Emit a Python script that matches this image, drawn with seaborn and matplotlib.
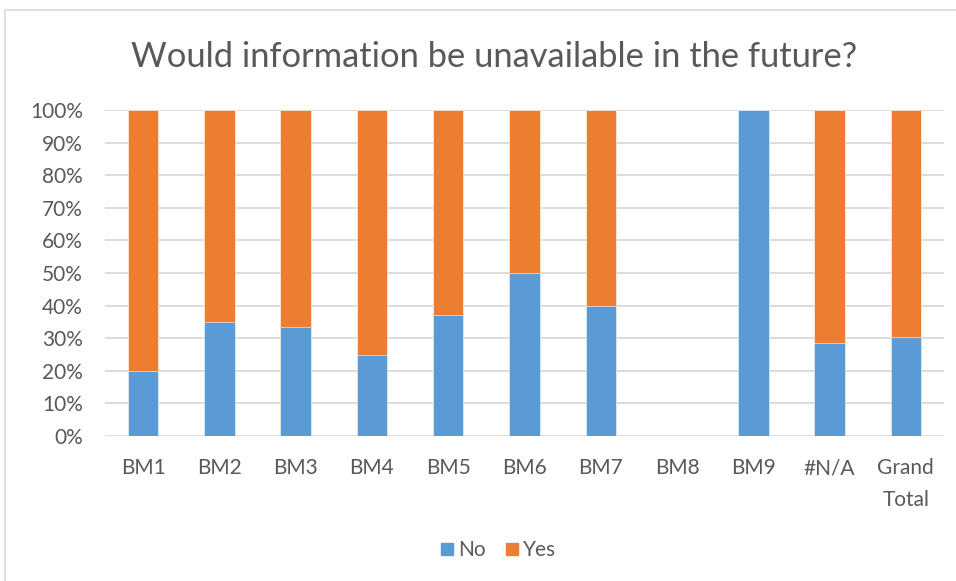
import matplotlib
matplotlib.use("Agg")
import matplotlib.pyplot as plt
from matplotlib.lines import Line2D
from matplotlib.ticker import PercentFormatter
import seaborn as sns
import pandas as pd

categories = ["BM1", "BM2", "BM3", "BM4", "BM5", "BM6", "BM7", "BM8", "BM9", "#N/A", "Grand\nTotal"]
no_vals = [0.20, 0.35, 0.333, 0.25, 0.37, 0.50, 0.40, 0.0, 1.00, 0.286, 0.303]
yes_vals = [0.80, 0.65, 0.667, 0.75, 0.63, 0.50, 0.60, 0.0, 0.00, 0.714, 0.697]
series_names = ["No", "Yes"]
title = "Would information be unavailable in the future?"

BLUE = "#5B9BD5"
ORANGE = "#ED7D31"
GRID = "#D9D9D9"
TEXT = "#595959"

sns.set_theme(style="white")
plt.rcParams["font.family"] = ["Lato", "DejaVu Sans"]

df = pd.DataFrame({"cat": categories, "No": no_vals, "Yes": yes_vals})
df["Total"] = df["No"] + df["Yes"]

fig = plt.figure(figsize=(9.56, 5.81), dpi=100)
ax = fig.add_axes([105 / 956, 145 / 581, 839 / 956, 326 / 581])

sns.barplot(data=df, x="cat", y="Total", color=ORANGE, saturation=1, width=0.4,
            ax=ax, edgecolor="white", linewidth=0.4, zorder=3)
sns.barplot(data=df, x="cat", y="No", color=BLUE, saturation=1, width=0.4,
            ax=ax, edgecolor="white", linewidth=0.4, zorder=4)

ax.set_ylim(0, 1)
ax.set_xlim(-0.5, len(categories) - 0.5)
ax.set_yticks([i / 10 for i in range(11)])
ax.yaxis.set_major_formatter(PercentFormatter(1.0, decimals=0))
ax.grid(axis="y", color=GRID, linewidth=1.3, zorder=0)
ax.set_axisbelow(True)
for s in ax.spines.values():
    s.set_visible(False)
ax.set_xlabel("")
ax.set_ylabel("")
ax.tick_params(axis="both", length=0, labelsize=15, labelcolor=TEXT)
ax.tick_params(axis="y", pad=16)
ax.tick_params(axis="x", pad=16)
for lbl in ax.get_xticklabels():
    lbl.set_verticalalignment("top")
    lbl.set_linespacing(1.72)

fig.text(494 / 956, 1 - 57 / 581, title, ha="center", va="center", fontsize=24.8, color=TEXT)

handles = [Line2D([0], [0], marker="s", linestyle="", markersize=8, markerfacecolor=BLUE, markeredgecolor=BLUE),
           Line2D([0], [0], marker="s", linestyle="", markersize=8, markerfacecolor=ORANGE, markeredgecolor=ORANGE)]
leg = fig.legend(handles, series_names, loc="center", bbox_to_anchor=(497 / 956, 1 - 550 / 581),
                 ncol=2, frameon=False, fontsize=15, handletextpad=0.1, columnspacing=0.8,
                 handlelength=0.9)
for t in leg.get_texts():
    t.set_color(TEXT)

# chart-area border (top and left visible)
fig.add_artist(Line2D([5 / 956, 5 / 956], [0, 1 - 10 / 581], transform=fig.transFigure, color="#D9D9D9", lw=1.2))
fig.add_artist(Line2D([5 / 956, 1], [1 - 10 / 581, 1 - 10 / 581], transform=fig.transFigure, color="#D9D9D9", lw=1.2))

fig.savefig("out.png", dpi=100)
